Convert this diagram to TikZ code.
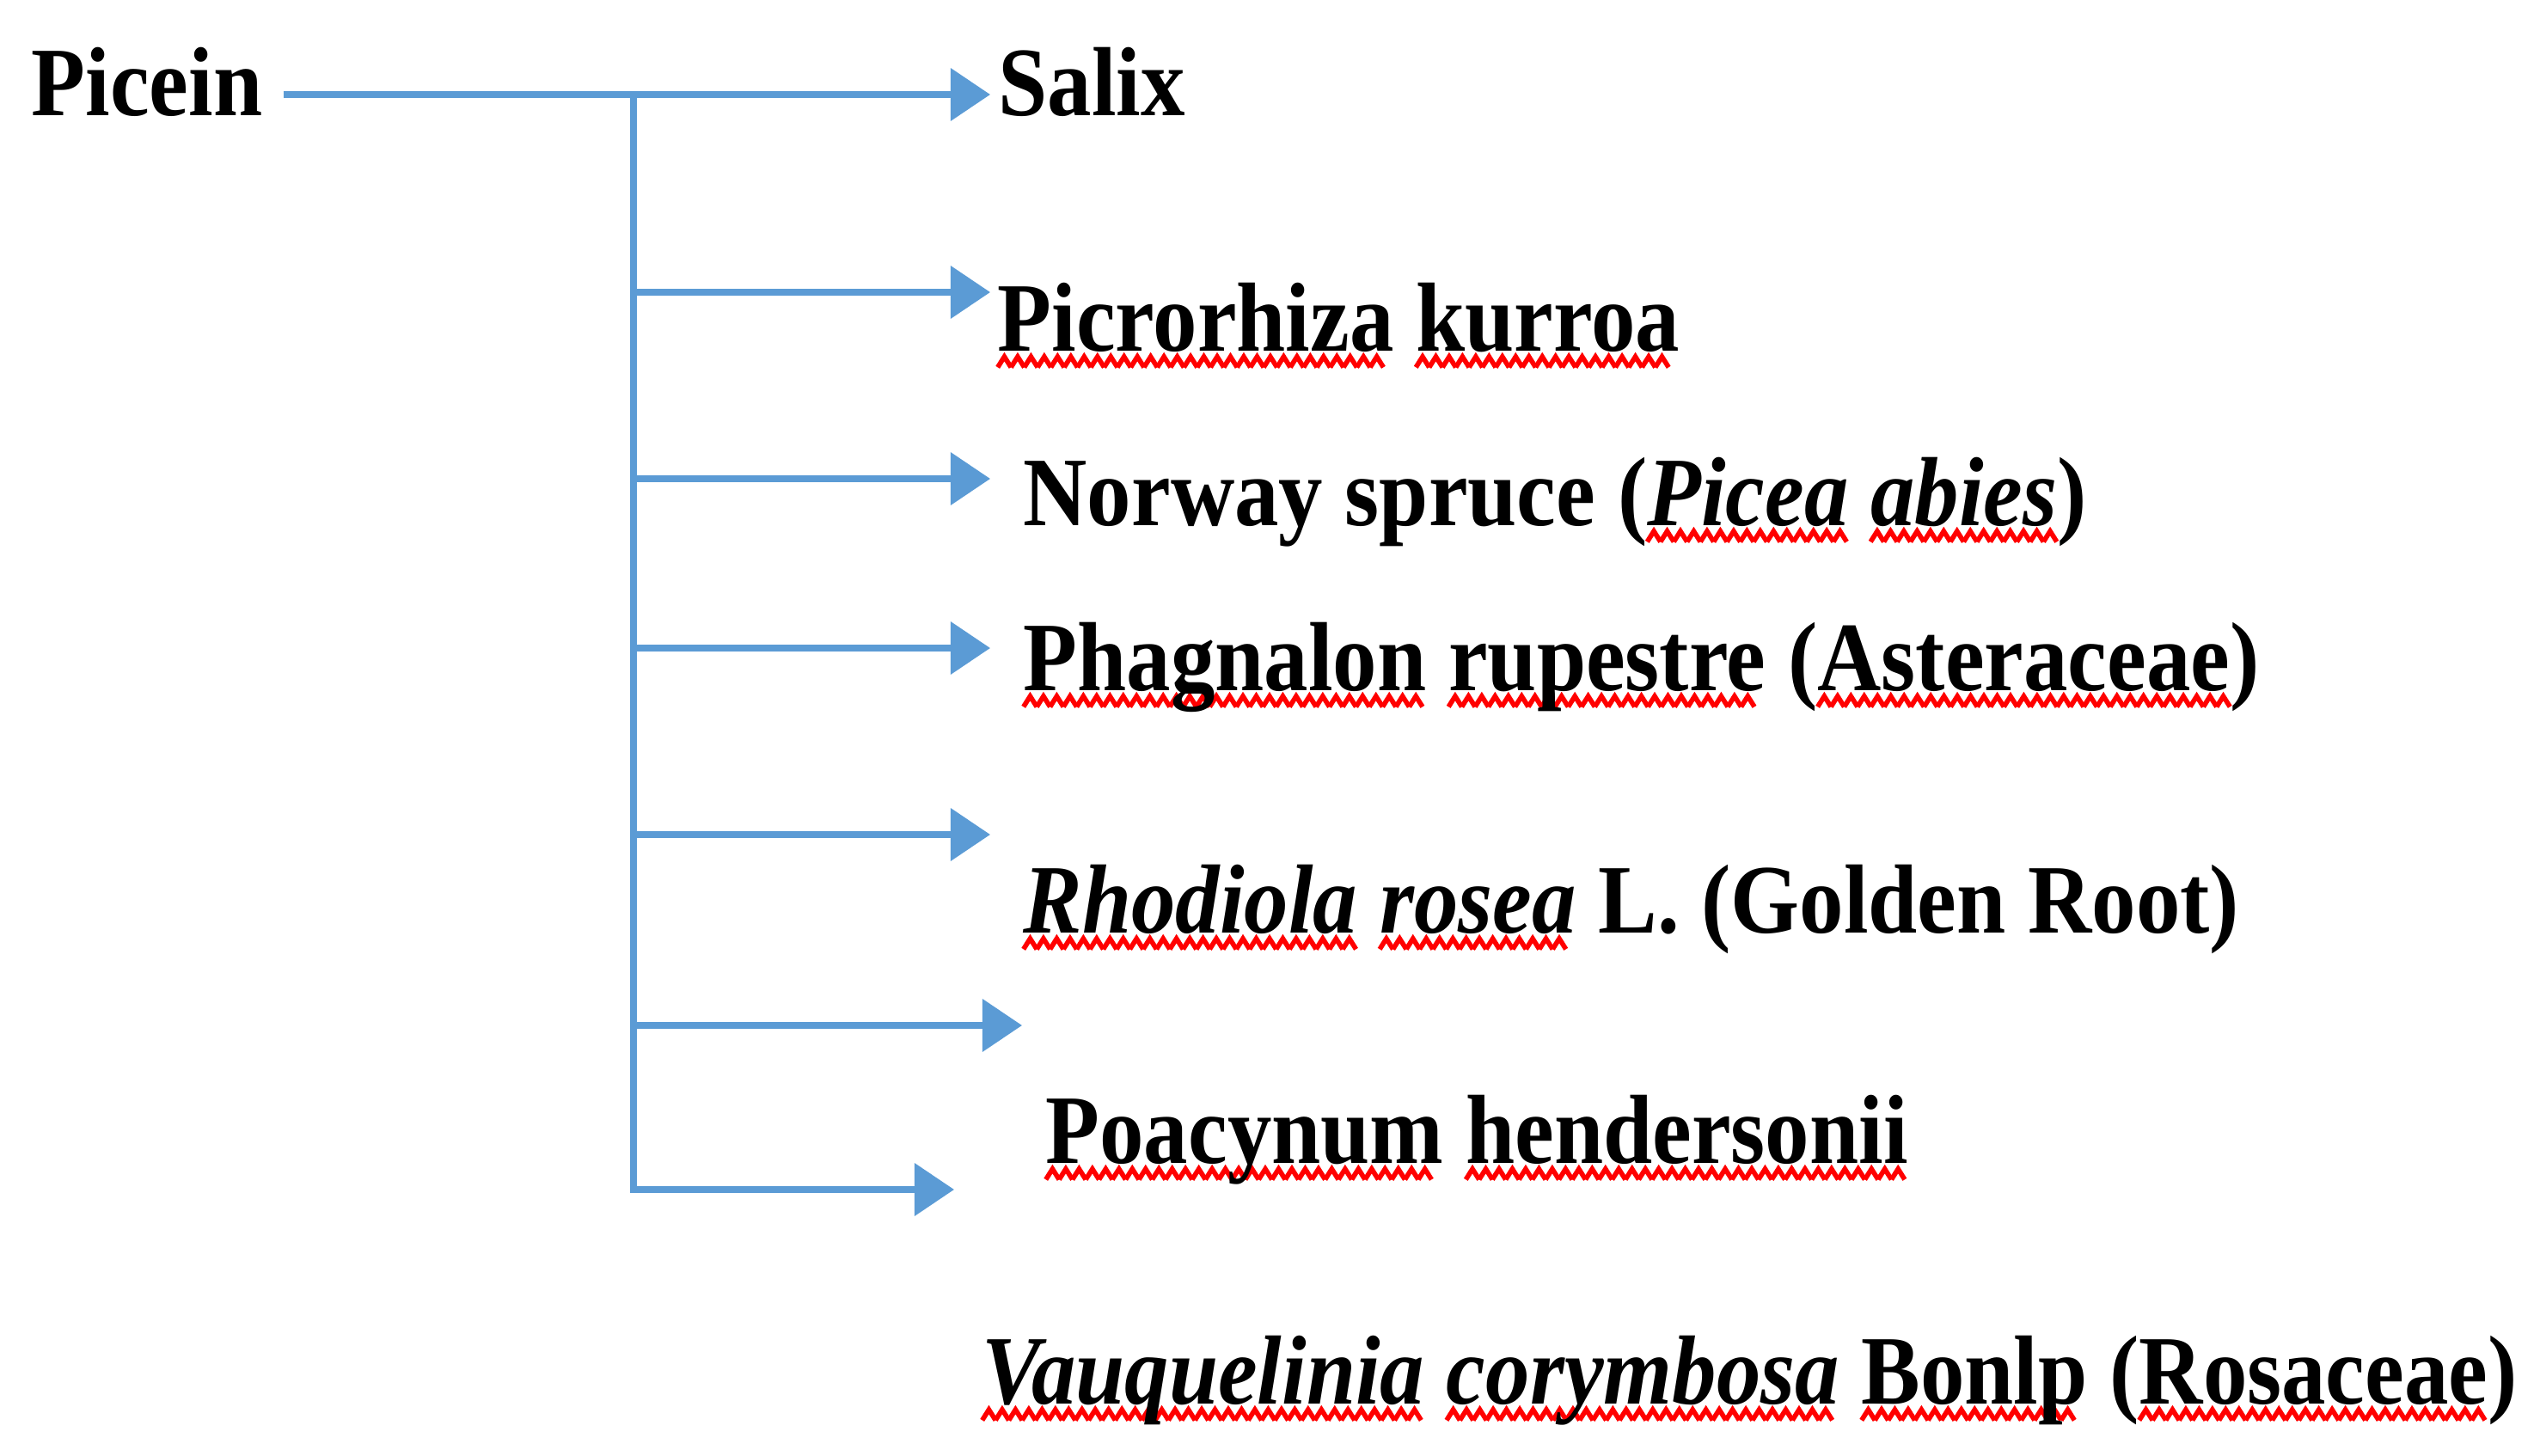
\documentclass[tikz,border=0pt]{standalone}
\usepackage{fontspec}
\setmainfont{Liberation Serif}[FakeStretch=0.9]
\usetikzlibrary{arrows.meta}
\definecolor{linkblue}{HTML}{5B9BD5}
\tikzset{wavered/.style={draw=red, line width=1.6pt}}
% red spell-check squiggle under a word
\newsavebox\wordbox
\newcommand\wavy[1]{\sbox\wordbox{#1}%
  \rlap{\leaders\hbox{\tikz[baseline=0pt]{\useasboundingbox (0pt,0pt) rectangle (4.4pt,0pt); \draw[wavered] (0pt,-5.5pt) -- (2.2pt,-2pt) -- (4.4pt,-5.5pt);}}\hskip\wd\wordbox\relax}%
  \usebox\wordbox}

\begin{document}
\begin{tikzpicture}
    [x=0.01cm,y=-0.01cm,
     every node/.style={anchor=base west, inner sep=0pt, font=\fontsize{32.5}{39}\selectfont\bfseries},
     link/.style={draw=linkblue, line width=2pt},
     arr/.style={link, -{Triangle[length=0.46cm,width=0.6cm]}}]
  \useasboundingbox (0,0) rectangle (2948,1694);

  \node (picein) at (36,135) {Picein};
  \node (salix) at (1161,135) {Salix};
  \node (picro) at (1160,408) {\wavy{Picrorhiza} \wavy{kurroa}};
  \node (spruce) at (1190,611) {Norway spruce (\textit{\wavy{Picea} \wavy{abies}})};
  \node (phag) at (1190,803) {\wavy{Phagnalon} \wavy{rupestre} (\wavy{Asteraceae})};
  \node (rhod) at (1190,1085) {\textit{\wavy{Rhodiola} \wavy{rosea}} L. (Golden Root)};
  \node (poac) at (1216,1353) {\wavy{Poacynum} \wavy{hendersonii}};
  \node (vauq) at (1142,1633) {\textit{\wavy{Vauquelinia} \wavy{corymbosa}} \wavy{Bonlp} (\wavy{Rosaceae})};

  \coordinate (j1) at (737,110);  \coordinate (t1) at (1152,110);
  \coordinate (j2) at (737,340);  \coordinate (t2) at (1152,340);
  \coordinate (j3) at (737,557);  \coordinate (t3) at (1152,557);
  \coordinate (j4) at (737,754);  \coordinate (t4) at (1152,754);
  \coordinate (j5) at (737,971);  \coordinate (t5) at (1152,971);
  \coordinate (j6) at (737,1193); \coordinate (t6) at (1189,1193);
  \coordinate (j7) at (737,1384); \coordinate (t7) at (1110,1384);

  \draw[arr, shorten <=0.24cm] (picein.east |- j1) -- (t1);
  \draw[arr] (j1) -- (j7) -- (t7);
  \foreach \from/\to in {j2/t2, j3/t3, j4/t4, j5/t5, j6/t6}
    \draw[arr] (\from) -- (\to);
\end{tikzpicture}
\end{document}
